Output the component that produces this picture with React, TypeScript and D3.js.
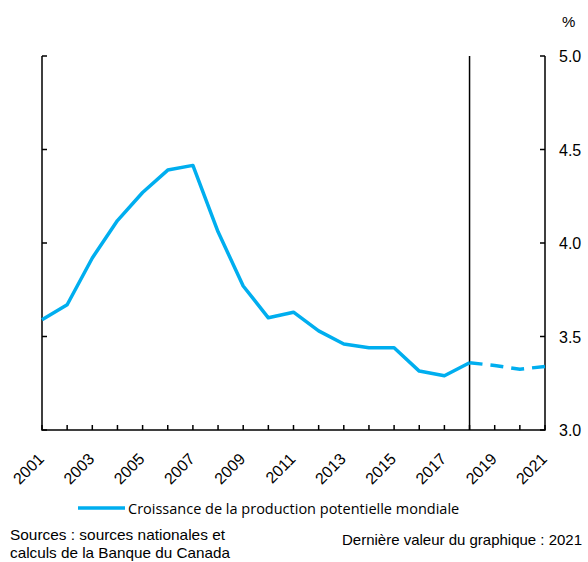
import React from "react";
import * as d3 from "d3";

const years = [2001,2002,2003,2004,2005,2006,2007,2008,2009,2010,2011,2012,2013,2014,2015,2016,2017,2018];
const values = [3.59,3.67,3.92,4.12,4.27,4.39,4.415,4.06,3.77,3.60,3.63,3.53,3.46,3.44,3.44,3.315,3.29,3.36];
const forecastYears = [2018,2019,2020,2021];
const forecastValues = [3.36,3.345,3.325,3.34];
const xTickLabels = [2001,2003,2005,2007,2009,2011,2013,2015,2017,2019,2021];
const yTicks = [3.0,3.5,4.0,4.5,5.0];
const legendLabel = "Croissance de la production potentielle mondiale";
const sourceLines = ["Sources : sources nationales et", "calculs de la Banque du Canada"];
const lastValueNote = "Dernière valeur du graphique : 2021";

export default function App() {
  const W = 588, H = 562;
  const left = 42, right = 545, top = 56, bottom = 430;
  const x = d3.scaleLinear().domain([2001, 2021]).range([left, right]);
  const y = d3.scaleLinear().domain([3, 5]).range([bottom, top]);
  const line = d3.line<[number, number]>().x(d => x(d[0])).y(d => y(d[1]));
  const hist = years.map((yr, i) => [yr, values[i]] as [number, number]);
  const fc = forecastYears.map((yr, i) => [yr, forecastValues[i]] as [number, number]);
  const allYears = d3.range(2001, 2022);
  const color = "#00AEEF";
  const font = "'Liberation Sans', Arial, sans-serif";
  return (
    <svg width={W} height={H} style={{ position: "absolute", left: 0, top: 0, background: "#fff" }}>
      {/* axes */}
      <path d={`M${left},${top} V${bottom} H${right} V${top}`} fill="none" stroke="#000" strokeWidth={1.5} />
      {yTicks.map(t => (
        <g key={t}>
          <line x1={left} x2={left + 5} y1={y(t)} y2={y(t)} stroke="#000" strokeWidth={1.5} />
          <line x1={right - 5} x2={right} y1={y(t)} y2={y(t)} stroke="#000" strokeWidth={1.5} />
          <text x={559} y={y(t) + 6} fontFamily={font} fontSize={16} fill="#000">{t.toFixed(1)}</text>
        </g>
      ))}
      {allYears.map(yr => (
        <line key={yr} x1={x(yr)} x2={x(yr)} y1={bottom} y2={bottom - 5} stroke="#000" strokeWidth={1.5} />
      ))}
      {xTickLabels.map(yr => (
        <text key={yr} transform={`translate(${x(yr) + 3},${bottom + 30}) rotate(-45)`} textAnchor="end"
          fontFamily={font} fontSize={16} fill="#000">{yr}</text>
      ))}
      <text x={562} y={27} fontFamily={font} fontSize={15} fill="#000">%</text>
      {/* vertical line */}
      <line x1={x(2018)} x2={x(2018)} y1={top} y2={bottom} stroke="#000" strokeWidth={1.5} />
      {/* series */}
      <path d={line(hist) || ""} fill="none" stroke={color} strokeWidth={3.5} strokeLinejoin="round" />
      <path d={line(fc) || ""} fill="none" stroke={color} strokeWidth={3.5} strokeDasharray="13,8" />
      {/* legend */}
      <line x1={78} x2={125} y1={508} y2={508} stroke={color} strokeWidth={3.5} />
      <text x={128} y={514} fontFamily="'Open Sans', 'Noto Sans', sans-serif" fontSize={14.5} fill="#000">{legendLabel}</text>
      {sourceLines.map((s, i) => (
        <text key={i} x={10} y={540 + i * 18} fontFamily={font} fontSize={14.5} fill="#000" textLength={i === 0 ? 215 : 220} lengthAdjust="spacingAndGlyphs">{s}</text>
      ))}
      <text x={582} y={545} textAnchor="end" fontFamily={font} fontSize={14.5} fill="#000" textLength={240} lengthAdjust="spacingAndGlyphs">{lastValueNote}</text>
    </svg>
  );
}
